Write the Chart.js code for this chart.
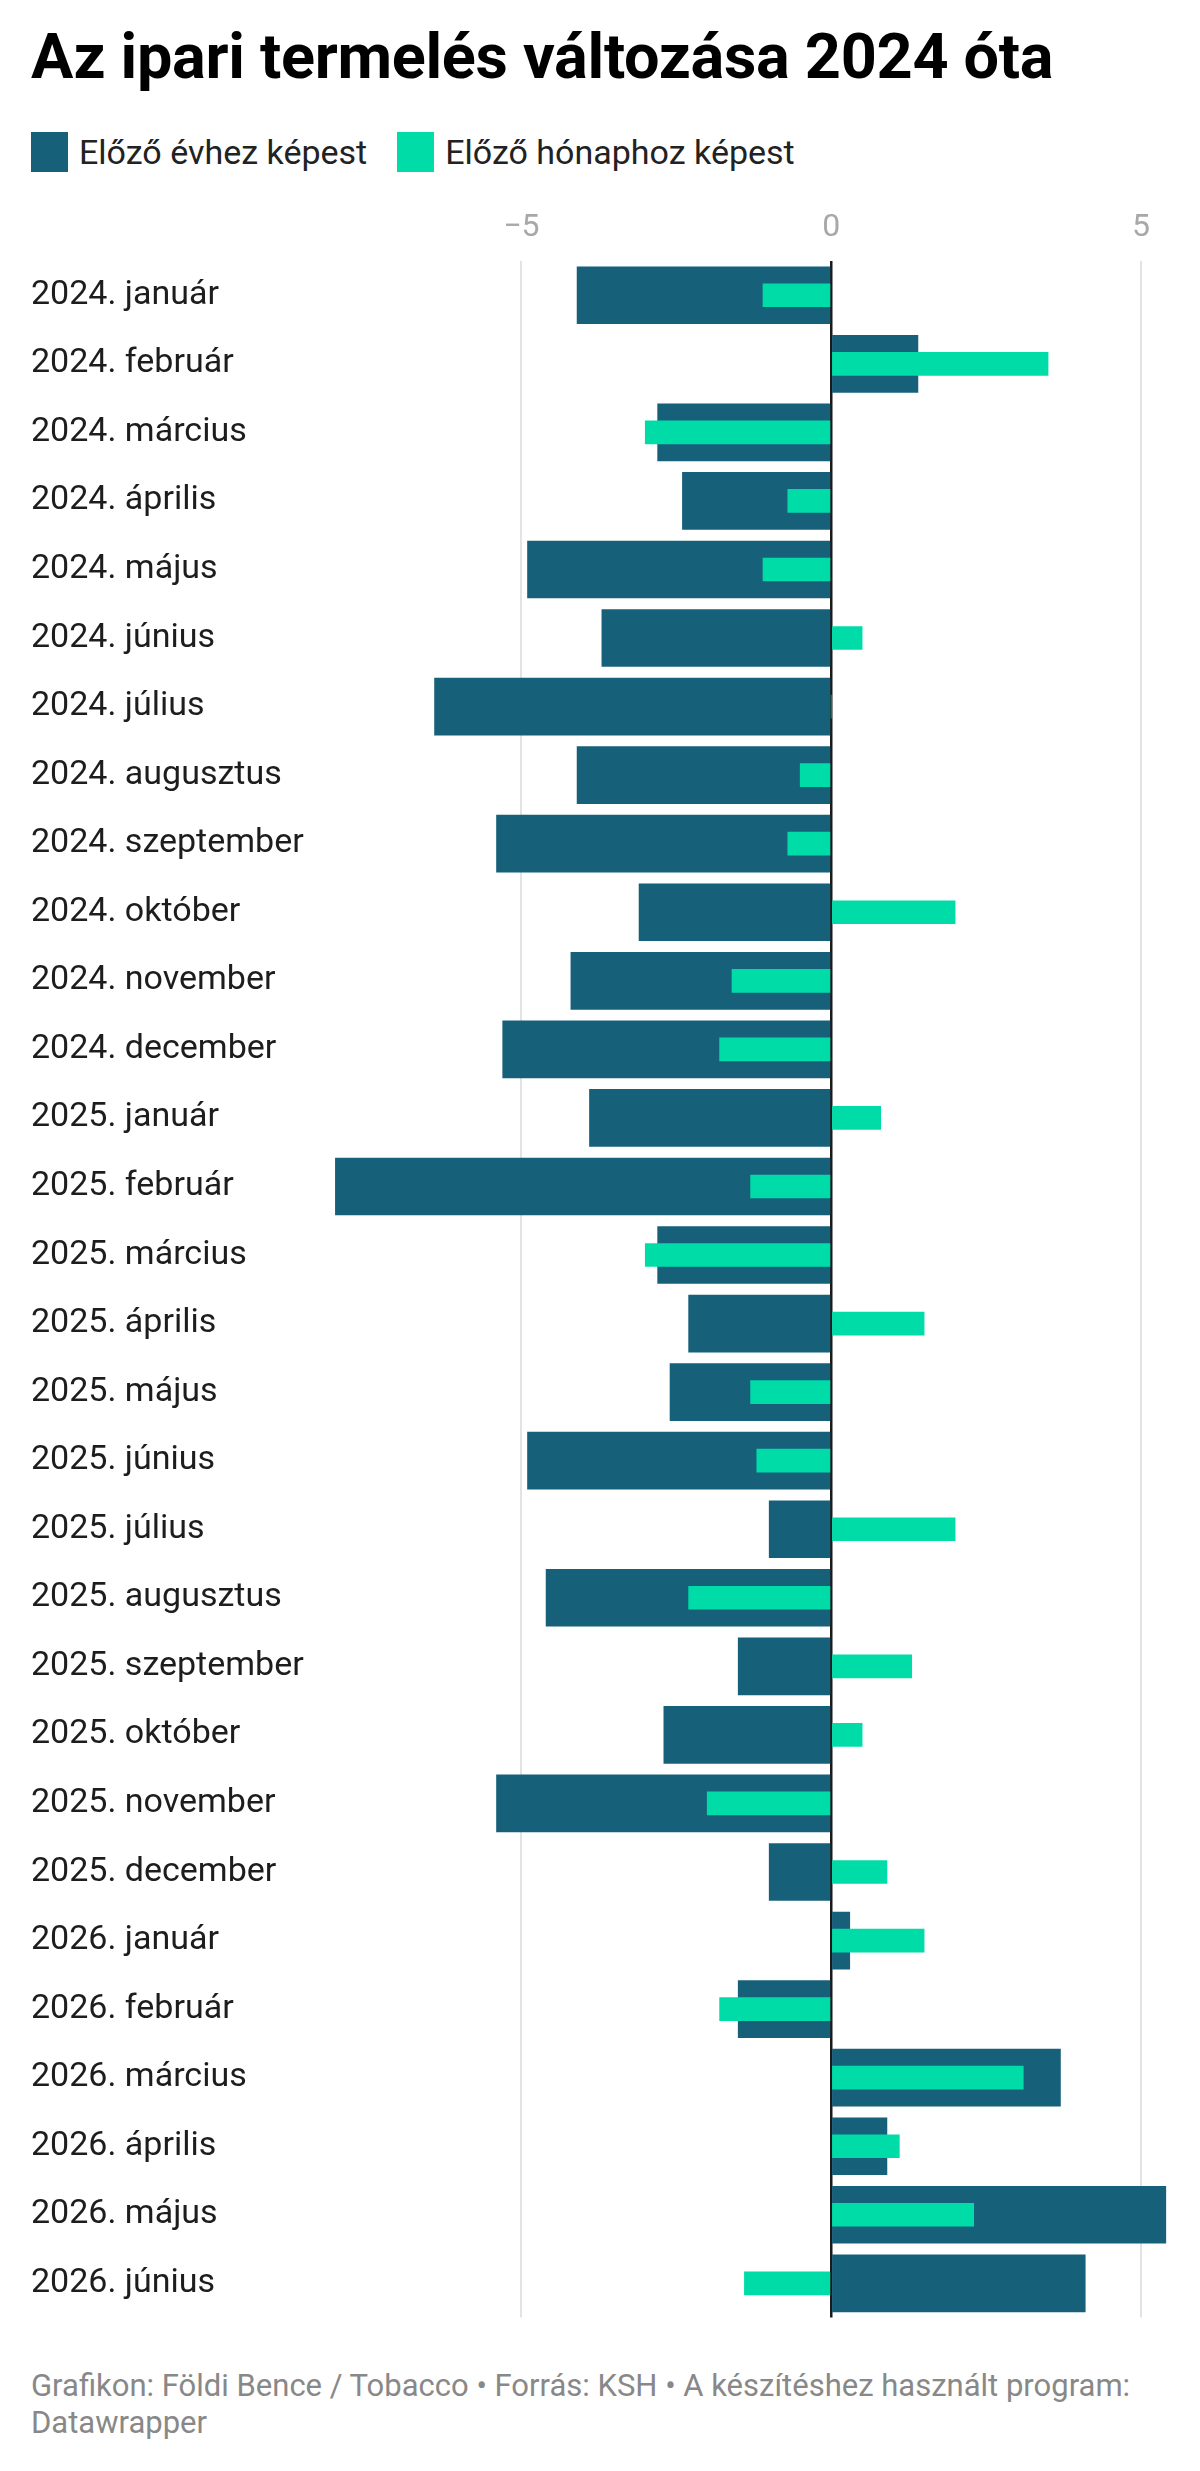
<!DOCTYPE html>
<html lang="hu">
<head>
<meta charset="utf-8">
<title>Az ipari termelés változása 2024 óta</title>
<script src="https://cdn.jsdelivr.net/npm/chart.js@4.4.1/dist/chart.umd.min.js"></script>
<style>
  html, body { margin: 0; padding: 0; background: #fff; }
  body { width: 1200px; height: 2471px; position: relative; font-family: Roboto, "Noto Sans", sans-serif; color: #1d1d1d; }
  h1 { position: absolute; left: 31px; top: 20px; margin: 0; font-size: 63px; font-weight: 700; letter-spacing: -0.3px; color: #000; }
  .legend { position: absolute; left: 31px; top: 132px; display: flex; align-items: center; font-size: 34px; color: #222; }
  .legend span.sw { display: inline-block; width: 37px; height: 40px; margin-right: 11px; }
  .legend .item { display: flex; align-items: center; margin-right: 30px; }
  #wrap { position: absolute; left: 0; top: 199px; width: 1200px; height: 2139px; }
  .footer { position: absolute; left: 31px; top: 2367px; width: 1150px; font-size: 31px; line-height: 37px; color: #888; }
</style>
</head>
<body>
<h1>Az ipari termelés változása 2024 óta</h1>
<div class="legend">
  <div class="item"><span class="sw" style="background:#17607a"></span>Előző évhez képest</div>
  <div class="item"><span class="sw" style="background:#00dca8"></span>Előző hónaphoz képest</div>
</div>
<div id="wrap"><canvas id="chart"></canvas></div>
<div class="footer">Grafikon: Földi Bence / Tobacco • Forrás: KSH • A készítéshez használt program: Datawrapper</div>
<script>
const months = [
  '2024. január', '2024. február', '2024. március', '2024. április', '2024. május', '2024. június',
  '2024. július', '2024. augusztus', '2024. szeptember', '2024. október', '2024. november', '2024. december',
  '2025. január', '2025. február', '2025. március', '2025. április', '2025. május', '2025. június',
  '2025. július', '2025. augusztus', '2025. szeptember', '2025. október', '2025. november', '2025. december',
  '2026. január', '2026. február', '2026. március', '2026. április', '2026. május', '2026. június'
];

// change compared with the same month of the previous year (%)
const yearOnYear = [
  -4.1, 1.4, -2.8, -2.4, -4.9, -3.7,
  -6.4, -4.1, -5.4, -3.1, -4.2, -5.3,
  -3.9, -8.0, -2.8, -2.3, -2.6, -4.9,
  -1.0, -4.6, -1.5, -2.7, -5.4, -1.0,
  0.3, -1.5, 3.7, 0.9, 5.4, 4.1
];

// change compared with the previous month (%)
const monthOnMonth = [
  -1.1, 3.5, -3.0, -0.7, -1.1, 0.5,
  0.0, -0.5, -0.7, 2.0, -1.6, -1.8,
  0.8, -1.3, -3.0, 1.5, -1.3, -1.2,
  2.0, -2.3, 1.3, 0.5, -2.0, 0.9,
  1.5, -1.8, 3.1, 1.1, 2.3, -1.4
];

const xTicks = [-5, 0, 5];

const ctx = document.getElementById('chart');
new Chart(ctx.getContext('2d'), {
  type: 'bar',
  data: {
    labels: months,
    datasets: [{
      label: 'Előző évhez képest',
      data: yearOnYear,
      backgroundColor: '#17607a',
      barThickness: 57,
      grouped: false,
      order: 1
    }, {
      label: 'Előző hónaphoz képest',
      data: monthOnMonth,
      backgroundColor: '#00dca8',
      barThickness: 23,
      grouped: false,
      order: 0
    }]
  },
  options: {
    indexAxis: 'y',
    responsive: true,
    maintainAspectRatio: false,
    animation: false,
    layout: { padding: { left: 31, right: 28, top: 0, bottom: 4 } },
    plugins: {
      legend: { display: false },
      tooltip: { enabled: false }
    },
    scales: {
      x: {
        position: 'top',
        min: -8.2,
        max: 5.5,
        afterBuildTicks: function(axis) {
          axis.ticks = xTicks.map(v => ({ value: v }));
        },
        afterFit: function(axis) { axis.height = 62; },
        border: { display: false },
        grid: {
          drawTicks: false,
          color: ctx => ctx.tick && ctx.tick.value === 0 ? '#1a1a1a' : '#e3e3e3',
          lineWidth: ctx => ctx.tick && ctx.tick.value === 0 ? 2.5 : 2
        },
        ticks: {
          padding: 14,
          color: '#a8a8a8',
          font: { family: 'Roboto', size: 32 },
          callback: v => String(v).replace('-', '\u2212')
        }
      },
      y: {
        afterFit: function(axis) { axis.width = 292; },
        border: { display: false },
        grid: { display: false },
        ticks: {
          crossAlign: 'far',
          padding: 0,
          color: '#1d1d1d',
          font: { family: 'Roboto', size: 34 }
        }
      }
    }
  }
});
</script>
</body>
</html>
